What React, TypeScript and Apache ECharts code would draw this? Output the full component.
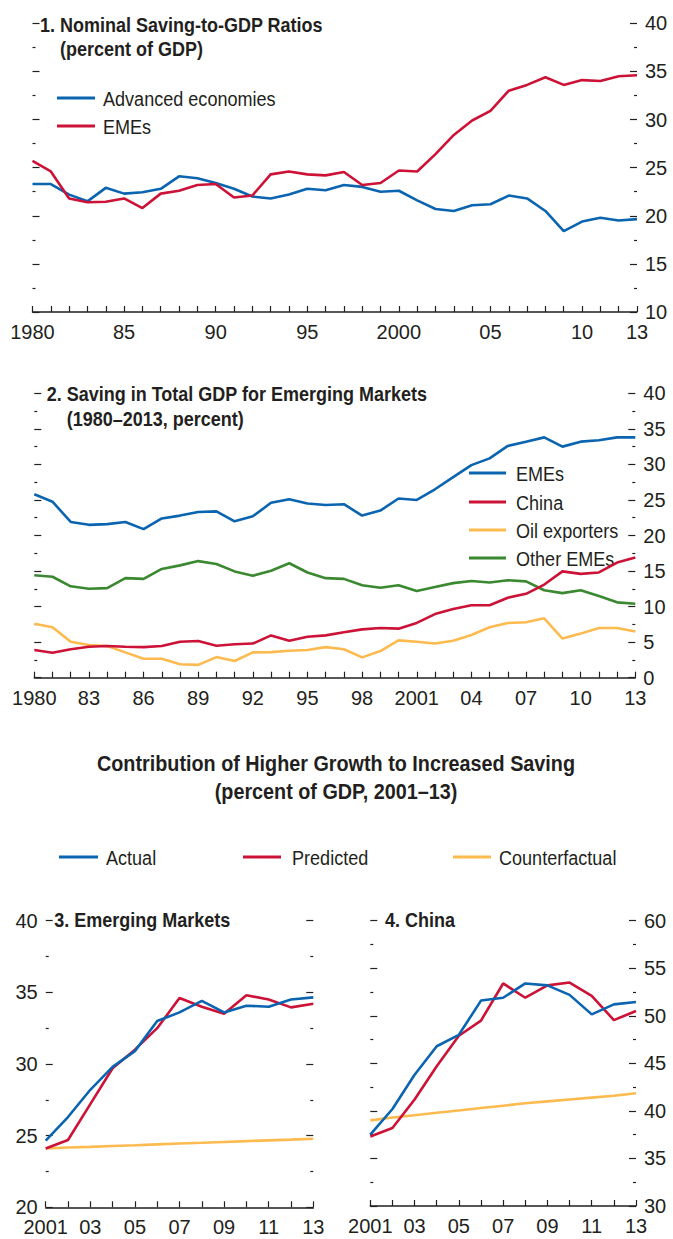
import React, { useEffect, useRef } from "react";
import * as echarts from "echarts";

// ---------- DATA ----------
const yearsLong = [
  "1980", "1981", "1982", "1983", "1984", "1985", "1986", "1987", "1988", "1989",
  "1990", "1991", "1992", "1993", "1994", "1995", "1996", "1997", "1998", "1999",
  "2000", "2001", "2002", "2003", "2004", "2005", "2006", "2007", "2008", "2009",
  "2010", "2011", "2012", "2013",
];
const yearsShort = [
  "2001", "2002", "2003", "2004", "2005", "2006", "2007", "2008", "2009", "2010",
  "2011", "2012", "2013",
];

// Panel 1: Nominal saving-to-GDP ratios
const advancedEconomies = [
  23.3, 23.3, 22.2, 21.5, 22.9, 22.3, 22.45, 22.8, 24.1, 23.9,
  23.4, 22.8, 22.0, 21.8, 22.2, 22.8, 22.65, 23.2, 23.0, 22.5,
  22.6, 21.6, 20.7, 20.5, 21.1, 21.2, 22.1, 21.8, 20.5, 18.4,
  19.4, 19.8, 19.5, 19.65,
];
const emesPanel1 = [
  25.7, 24.6, 21.8, 21.4, 21.45, 21.8, 20.8, 22.3, 22.6, 23.2,
  23.3, 21.9, 22.1, 24.3, 24.6, 24.3, 24.2, 24.55, 23.2, 23.4,
  24.7, 24.6, 26.4, 28.4, 29.9, 30.9, 33.0, 33.6, 34.4, 33.6,
  34.1, 34.0, 34.5, 34.6,
];

// Panel 2: Saving in total GDP for emerging markets
const emesPanel2 = [
  25.8, 24.75, 21.9, 21.5, 21.6, 21.9, 20.9, 22.4, 22.8, 23.3,
  23.4, 22.0, 22.7, 24.6, 25.1, 24.5, 24.3, 24.4, 22.8, 23.5,
  25.2, 25.0, 26.5, 28.2, 29.9, 30.85, 32.6, 33.2, 33.8, 32.5,
  33.2, 33.4, 33.8, 33.8,
];
const chinaPanel2 = [
  3.9, 3.5, 4.0, 4.36, 4.45, 4.36, 4.3, 4.45, 5.06, 5.16,
  4.5, 4.7, 4.8, 5.95, 5.2, 5.77, 5.95, 6.4, 6.8, 7.0,
  6.9, 7.7, 8.95, 9.65, 10.2, 10.2, 11.25, 11.8, 13.1, 14.95,
  14.6, 14.8, 16.2, 16.9,
];
const oilExporters = [
  7.6, 7.1, 5.06, 4.6, 4.45, 3.56, 2.67, 2.67, 1.9, 1.8,
  2.9, 2.35, 3.56, 3.6, 3.8, 3.9, 4.3, 4.0, 2.86, 3.75,
  5.25, 5.06, 4.8, 5.2, 6.0, 7.1, 7.7, 7.8, 8.35, 5.5,
  6.2, 7.0, 7.0, 6.5,
];
const otherEmes = [
  14.4, 14.2, 12.85, 12.5, 12.6, 14.0, 13.9, 15.3, 15.8, 16.4,
  16.0, 14.95, 14.35, 15.05, 16.1, 14.8, 14.0, 13.9, 13.0, 12.65,
  13.0, 12.2, 12.75, 13.3, 13.6, 13.4, 13.7, 13.55, 12.3, 11.9,
  12.3, 11.5, 10.6, 10.4,
];

// Panel 3: Emerging markets
const actualEM = [24.65, 26.3, 28.2, 29.8, 30.9, 33.0, 33.6, 34.4, 33.6, 34.07, 34.0, 34.5, 34.65];
const predictedEM = [24.1, 24.7, 27.2, 29.7, 31.0, 32.5, 34.6, 34.0, 33.5, 34.8, 34.5, 33.95, 34.2];
const counterfactualEM = [24.1, 24.17, 24.22, 24.28, 24.33, 24.39, 24.45, 24.5, 24.56, 24.62, 24.67, 24.72, 24.78];

// Panel 4: China
const actualCN = [37.5, 40.2, 43.8, 46.8, 48.0, 51.6, 51.9, 53.4, 53.2, 52.2, 50.15, 51.2, 51.45];
const predictedCN = [37.3, 38.2, 41.2, 44.7, 47.9, 49.5, 53.4, 51.9, 53.2, 53.5, 52.1, 49.55, 50.5];
const counterfactualCN = [39.0, 39.3, 39.55, 39.8, 40.05, 40.3, 40.55, 40.8, 41.0, 41.2, 41.4, 41.6, 41.85];

// Tick labels
const labelsPanel1 = ["1980", "1985", "1990", "1995", "2000", "2005", "2010", "2013"];
const labelsPanel2 = ["1980", "1983", "1986", "1989", "1992", "1995", "1998", "2001", "2004", "2007", "2010", "2013"];
const labelsShort = ["2001", "2003", "2005", "2007", "2009", "2011", "2013"];
const fullYearLabels = ["1980", "2000", "2001"];

// ---------- STYLE ----------
const INK = "#231f20";
const BLUE = "#0a64b0";
const RED = "#cc1236";
const YELLOW = "#fdba4f";
const GREEN = "#3a882f";
const FONT = "'Liberation Sans', Arial, sans-serif";
const AXIS_FS = 20;

function fmtYear(v: string, longSet: string[]) {
  if (longSet.indexOf(v) >= 0) return v;
  return v.slice(2);
}

function xAxis(gridIndex: number, data: string[], labeled: string[], longSet: string[]) {
  return {
    type: "category",
    gridIndex,
    data,
    boundaryGap: false,
    axisLine: { show: true, lineStyle: { color: INK, width: 1.5 } },
    axisTick: { show: true, inside: true, length: 6, interval: 0, lineStyle: { color: INK, width: 1.2 } },
    axisLabel: {
      interval: (_i: number, v: string) => labeled.indexOf(v) >= 0,
      formatter: (v: string) => fmtYear(v, longSet),
      margin: 10,
      fontSize: AXIS_FS,
      fontFamily: FONT,
      color: INK,
    },
    splitLine: { show: false },
  };
}

function yAxis(gridIndex: number, position: string, min: number, max: number, showLabel: boolean) {
  return {
    type: "value",
    gridIndex,
    position,
    min,
    max,
    interval: 5,
    axisLine: { show: false },
    splitLine: { show: false },
    axisTick: { show: true, inside: true, length: 7, lineStyle: { color: INK, width: 1.2 } },
    minorTick: { show: true, splitNumber: 2, length: 3, lineStyle: { color: INK, width: 1.2 } },
    axisLabel: { show: showLabel, margin: 8, fontSize: AXIS_FS, fontFamily: FONT, color: INK },
  };
}

function line(name: string, data: number[], color: string, xi: number, yi: number, z = 2) {
  return {
    type: "line",
    name,
    data,
    xAxisIndex: xi,
    yAxisIndex: yi,
    symbol: "none",
    z,
    lineStyle: { color, width: 2.6 },
    itemStyle: { color },
  };
}

function txt(text: string, x: number, y: number, size: number, bold: boolean, sx: number, align = "left") {
  return {
    type: "text",
    x,
    y,
    scaleX: sx,
    style: {
      text,
      fill: INK,
      fontSize: size,
      fontWeight: bold ? "bold" : "normal",
      fontFamily: FONT,
      align,
      verticalAlign: "middle",
    },
  };
}

function legendItem(label: string, color: string, x1: number, x2: number, tx: number, y: number) {
  return [
    { type: "line", shape: { x1, y1: y, x2, y2: y }, style: { stroke: color, lineWidth: 3 } },
    txt(label, tx, y, 21, false, 0.86),
  ];
}

export default function App() {
  const ref = useRef<HTMLDivElement>(null);

  useEffect(() => {
    if (!ref.current) return;
    const chart = echarts.init(ref.current, undefined, { renderer: "svg" });
    const option = {
      animation: false,
      backgroundColor: "#ffffff",
      grid: [
        { left: 32.5, top: 23.3, width: 604.5, height: 288.7 },
        { left: 34.3, top: 393.3, width: 601, height: 284.4 },
        { left: 45.7, top: 920.7, width: 267.6, height: 286.6 },
        { left: 370.3, top: 920.7, width: 265.7, height: 285.3 },
      ],
      xAxis: [
        xAxis(0, yearsLong, labelsPanel1, fullYearLabels),
        xAxis(1, yearsLong, labelsPanel2, fullYearLabels),
        xAxis(2, yearsShort, labelsShort, fullYearLabels),
        xAxis(3, yearsShort, labelsShort, fullYearLabels),
      ],
      yAxis: [
        yAxis(0, "right", 10, 40, true),
        yAxis(0, "left", 10, 40, false),
        yAxis(1, "right", 0, 40, true),
        yAxis(1, "left", 0, 40, false),
        yAxis(2, "left", 20, 40, true),
        yAxis(2, "right", 20, 40, false),
        yAxis(3, "right", 30, 60, true),
        yAxis(3, "left", 30, 60, false),
      ],
      series: [
        line("Advanced economies", advancedEconomies, BLUE, 0, 0, 2),
        line("EMEs", emesPanel1, RED, 0, 0, 3),
        line("Other EMEs", otherEmes, GREEN, 1, 2, 2),
        line("Oil exporters", oilExporters, YELLOW, 1, 2, 3),
        line("China", chinaPanel2, RED, 1, 2, 4),
        line("EMEs", emesPanel2, BLUE, 1, 2, 5),
        line("Counterfactual", counterfactualEM, YELLOW, 2, 4, 2),
        line("Predicted", predictedEM, RED, 2, 4, 3),
        line("Actual", actualEM, BLUE, 2, 4, 4),
        line("Counterfactual", counterfactualCN, YELLOW, 3, 6, 2),
        line("Predicted", predictedCN, RED, 3, 6, 3),
        line("Actual", actualCN, BLUE, 3, 6, 4),
      ],
      graphic: [
        txt("1. Nominal Saving-to-GDP Ratios", 40, 25, 20, true, 0.9),
        txt("(percent of GDP)", 60, 49, 20, true, 0.9),
        ...legendItem("Advanced economies", BLUE, 57, 95, 103, 98),
        ...legendItem("EMEs", RED, 57, 95, 103, 126),

        txt("2. Saving in Total GDP for Emerging Markets", 46.7, 394.5, 20, true, 0.9),
        txt("(1980–2013, percent)", 66.7, 419, 20, true, 0.9),
        ...legendItem("EMEs", BLUE, 469, 506, 516, 473),
        ...legendItem("China", RED, 469, 506, 516, 502),
        ...legendItem("Oil exporters", YELLOW, 469, 506, 516, 530),
        ...legendItem("Other EMEs", GREEN, 469, 506, 516, 558),

        txt("Contribution of Higher Growth to Increased Saving", 336, 763.5, 22, true, 0.9, "center"),
        txt("(percent of GDP, 2001–13)", 336, 791, 22, true, 0.9, "center"),
        ...legendItem("Actual", BLUE, 59, 98, 106, 857),
        ...legendItem("Predicted", RED, 243, 281, 292, 857),
        ...legendItem("Counterfactual", YELLOW, 453, 491, 499, 857),

        txt("3. Emerging Markets", 54.3, 920, 20, true, 0.9),
        txt("4. China", 385, 920, 20, true, 0.9),
      ],
    };
    chart.setOption(option as any);
    return () => chart.dispose();
  }, []);

  return (
    <div
      ref={ref}
      style={{ position: "absolute", left: 0, top: 0, width: 673, height: 1239 }}
    />
  );
}
